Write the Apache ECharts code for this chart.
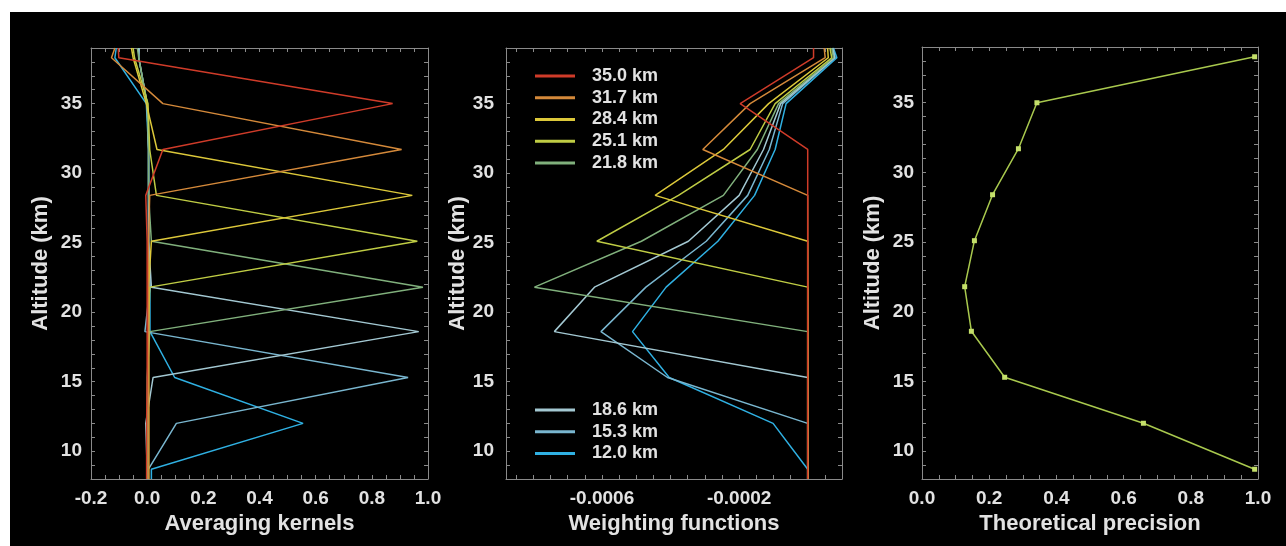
<!DOCTYPE html>
<html><head><meta charset="utf-8">
<script src="https://cdn.jsdelivr.net/npm/echarts@6/dist/echarts.min.js"></script>
<style>
html,body{margin:0;padding:0;background:#fff;width:1286px;height:546px;overflow:hidden}
#c{position:absolute;left:10px;top:12px;width:1276px;height:534px;background:#000}
</style>
</head><body><div id="c"></div>
<script>
// ---- data ----
const levels = [39.0, 38.3, 35.0, 31.7, 28.4, 25.1, 21.8, 18.6, 15.3, 12.0, 8.7, 8.0];
const seriesNames = ['35.0 km', '31.7 km', '28.4 km', '25.1 km', '21.8 km', '18.6 km', '15.3 km', '12.0 km'];

// Averaging kernels (one value per level)
const ak35_0 = [-0.103, -0.101, 0.874, 0.056, -0.005, 0.000, 0.000, 0.000, 0.000, -0.002, -0.002, -0.002];
const ak31_7 = [-0.115, -0.127, 0.056, 0.906, 0.009, 0.005, 0.005, 0.005, 0.005, 0.005, 0.005, 0.005];
const ak28_4 = [-0.056, -0.050, -0.003, 0.035, 0.944, 0.015, 0.005, 0.005, 0.005, 0.005, 0.005, 0.005];
const ak25_1 = [-0.050, -0.045, 0.003, 0.009, 0.033, 0.962, 0.009, 0.005, 0.005, 0.005, 0.005, 0.005];
const ak21_8 = [-0.035, -0.030, 0.000, 0.005, 0.005, 0.015, 0.982, 0.009, 0.000, 0.000, 0.000, 0.000];
const ak18_6 = [-0.030, -0.030, 0.000, 0.005, 0.005, 0.005, 0.015, 0.967, 0.021, -0.005, 0.000, 0.000];
const ak15_3 = [-0.028, -0.030, 0.000, 0.005, 0.005, 0.005, 0.010, -0.008, 0.929, 0.104, 0.004, 0.004];
const ak12_0 = [-0.110, -0.115, -0.003, 0.005, 0.005, 0.005, 0.010, 0.010, 0.098, 0.555, 0.015, 0.015];

// Weighting functions (one value per level)
const wf35_0 = [0.000017, 0.000017, -0.000197, 0, 0, 0, 0, 0, 0, 0, 0, 0];
const wf31_7 = [0.000048, 0.000051, -0.000168, -0.000306, 0, 0, 0, 0, 0, 0, 0, 0];
const wf28_4 = [0.000058, 0.000060, -0.000114, -0.000246, -0.000445, 0, 0, 0, 0, 0, 0, 0];
const wf25_1 = [0.000065, 0.000070, -0.000095, -0.000168, -0.000377, -0.000615, 0, 0, 0, 0, 0, 0];
const wf21_8 = [0.000070, 0.000075, -0.000085, -0.000147, -0.000246, -0.000485, -0.000797, 0, 0, 0, 0, 0];
const wf18_6 = [0.000072, 0.000078, -0.000079, -0.000129, -0.000200, -0.000348, -0.000622, -0.000739, 0, 0, 0, 0];
const wf15_3 = [0.000074, 0.000080, -0.000073, -0.000112, -0.000175, -0.000296, -0.000472, -0.000603, -0.000409, 0, 0, 0];
const wf12_0 = [0.000075, 0.000085, -0.000063, -0.000095, -0.000155, -0.000262, -0.000413, -0.000511, -0.000404, -0.000101, 0, 0];

// Theoretical precision
const precisionAlt = [38.3, 35.0, 31.7, 28.4, 25.1, 21.8, 18.6, 15.3, 12.0, 8.7];
const precision = [0.99, 0.342, 0.287, 0.210, 0.156, 0.127, 0.147, 0.246, 0.659, 0.99];

// Tick labels and tick marks
const altLabels = [10, 15, 20, 25, 30, 35];
const altTicks = [8, 9, 10, 11, 12, 13, 14, 15, 16, 17, 18, 19, 20, 21, 22, 23, 24, 25, 26, 27, 28, 29, 30, 31, 32, 33, 34, 35, 36, 37, 38, 39];
const akLabels = [-0.2, 0.0, 0.2, 0.4, 0.6, 0.8, 1.0];
const akTicks = [-0.2, -0.15, -0.1, -0.05, 0, 0.05, 0.1, 0.15, 0.2, 0.25, 0.3, 0.35, 0.4, 0.45, 0.5, 0.55, 0.6, 0.65, 0.7, 0.75, 0.8, 0.85, 0.9, 0.95, 1.0];
const wfLabels = [-0.0006, -0.0002];
const wfTicks = [-0.00085, -0.0008, -0.00075, -0.0007, -0.00065, -0.0006, -0.00055, -0.0005, -0.00045, -0.0004, -0.00035, -0.0003, -0.00025, -0.0002, -0.00015, -0.0001, -0.00005, 0, 0.00005, 0.0001];
const precLabels = [0.0, 0.2, 0.4, 0.6, 0.8, 1.0];
const precTicks = [0, 0.05, 0.1, 0.15, 0.2, 0.25, 0.3, 0.35, 0.4, 0.45, 0.5, 0.55, 0.6, 0.65, 0.7, 0.75, 0.8, 0.85, 0.9, 0.95, 1.0];

// ---- styling ----
const colors = ['#cf3b29', '#d4893a', '#dcc83a', '#bfcc44', '#80b07c', '#a3c8d2', '#79b6cf', '#2fb0e2'];
const akData = [ak35_0, ak31_7, ak28_4, ak25_1, ak21_8, ak18_6, ak15_3, ak12_0];
const wfData = [wf35_0, wf31_7, wf28_4, wf25_1, wf21_8, wf18_6, wf15_3, wf12_0];

const FONT = 'Liberation Sans';
const TXT = '#e2e2e2';
const AX = '#8a8a8a';

const grids = [
  {left: 81, top: 36, width: 337, height: 431},
  {left: 496, top: 36, width: 336, height: 431},
  {left: 912, top: 35, width: 336, height: 432}
];

function xAxisPair(gi, min, max, labels, ticks, name, fmt) {
  const common = {
    type: 'value', gridIndex: gi, min: min, max: max,
    splitLine: {show: false},
    axisLine: {show: true, onZero: false, lineStyle: {color: AX, width: 1}},
    axisTick: {show: true, inside: true, length: 4, customValues: ticks, lineStyle: {color: AX}}
  };
  return [
    Object.assign({}, common, {
      position: 'bottom', name: name, nameLocation: 'middle', nameGap: 33,
      nameTextStyle: {color: TXT, fontSize: 22, fontWeight: 'bold', fontFamily: FONT},
      axisLabel: {show: true, customValues: labels, formatter: fmt, color: TXT, fontSize: 19, fontWeight: 'bold', fontFamily: FONT, margin: 10}
    }),
    Object.assign({}, common, {position: 'top', axisLabel: {show: false}})
  ];
}
function yAxisPair(gi, nameGap, margin) {
  const common = {
    type: 'value', gridIndex: gi, min: 8, max: 39,
    splitLine: {show: false},
    axisLine: {show: true, onZero: false, lineStyle: {color: AX, width: 1}},
    axisTick: {show: true, inside: true, length: 4, customValues: altTicks, lineStyle: {color: AX}}
  };
  return [
    Object.assign({}, common, {
      position: 'left', name: 'Altitude (km)', nameLocation: 'middle', nameGap: nameGap,
      nameTextStyle: {color: TXT, fontSize: 22, fontWeight: 'bold', fontFamily: FONT},
      axisLabel: {show: true, customValues: altLabels, color: TXT, fontSize: 19, fontWeight: 'bold', fontFamily: FONT, margin: margin}
    }),
    Object.assign({}, common, {position: 'right', axisLabel: {show: false}})
  ];
}

const xAxes = [].concat(
  xAxisPair(0, -0.2, 1.0, akLabels, akTicks, 'Averaging kernels', v => v.toFixed(1)),
  xAxisPair(1, -0.00088, 0.0001, wfLabels, wfTicks, 'Weighting functions', v => v.toFixed(4)),
  xAxisPair(2, 0, 1.0, precLabels, precTicks, 'Theoretical precision', v => v.toFixed(1))
);
const yAxes = [].concat(yAxisPair(0, 39, 9), yAxisPair(1, 36, 12), yAxisPair(2, 38, 8));

// draw lowest-altitude kernel first so the red/orange lines end up on top
const series = [];
for (let k = akData.length - 1; k >= 0; k--) {
  series.push({
    type: 'line', name: seriesNames[k], xAxisIndex: 0, yAxisIndex: 0,
    data: levels.map((a, i) => [akData[k][i], a]),
    symbol: 'none', lineStyle: {width: 1.5, color: colors[k]}, itemStyle: {color: colors[k]},
    clip: true
  });
}
for (let k = wfData.length - 1; k >= 0; k--) {
  series.push({
    type: 'line', name: seriesNames[k], xAxisIndex: 2, yAxisIndex: 2,
    data: levels.map((a, i) => [wfData[k][i], a]),
    symbol: 'none', lineStyle: {width: 1.5, color: colors[k]}, itemStyle: {color: colors[k]},
    clip: true
  });
}
series.push({
  type: 'line', name: 'precision', xAxisIndex: 4, yAxisIndex: 4,
  data: precisionAlt.map((a, i) => [precision[i], a]),
  symbol: 'rect', symbolSize: 5,
  lineStyle: {width: 1.5, color: '#a9c94e'}, itemStyle: {color: '#c4df6a'},
  clip: false
});

const legendCommon = {
  orient: 'vertical', icon: 'rect', itemWidth: 40, itemHeight: 3, itemGap: 3.75, padding: 0,
  selectedMode: false,
  textStyle: {color: TXT, fontSize: 18, lineHeight: 18, fontWeight: 'bold', fontFamily: FONT, padding: [0, 0, 0, 12]}
};

const chart = echarts.init(document.getElementById('c'), null, {renderer: 'canvas'});
chart.setOption({
  backgroundColor: '#000',
  animation: false,
  grid: grids,
  xAxis: xAxes,
  yAxis: yAxes,
  legend: [
    Object.assign({}, legendCommon, {left: 525, top: 55, data: seriesNames.slice(0, 5)}),
    Object.assign({}, legendCommon, {left: 525, top: 389, data: seriesNames.slice(5)})
  ],
  series: series
});
</script>
</body></html>
